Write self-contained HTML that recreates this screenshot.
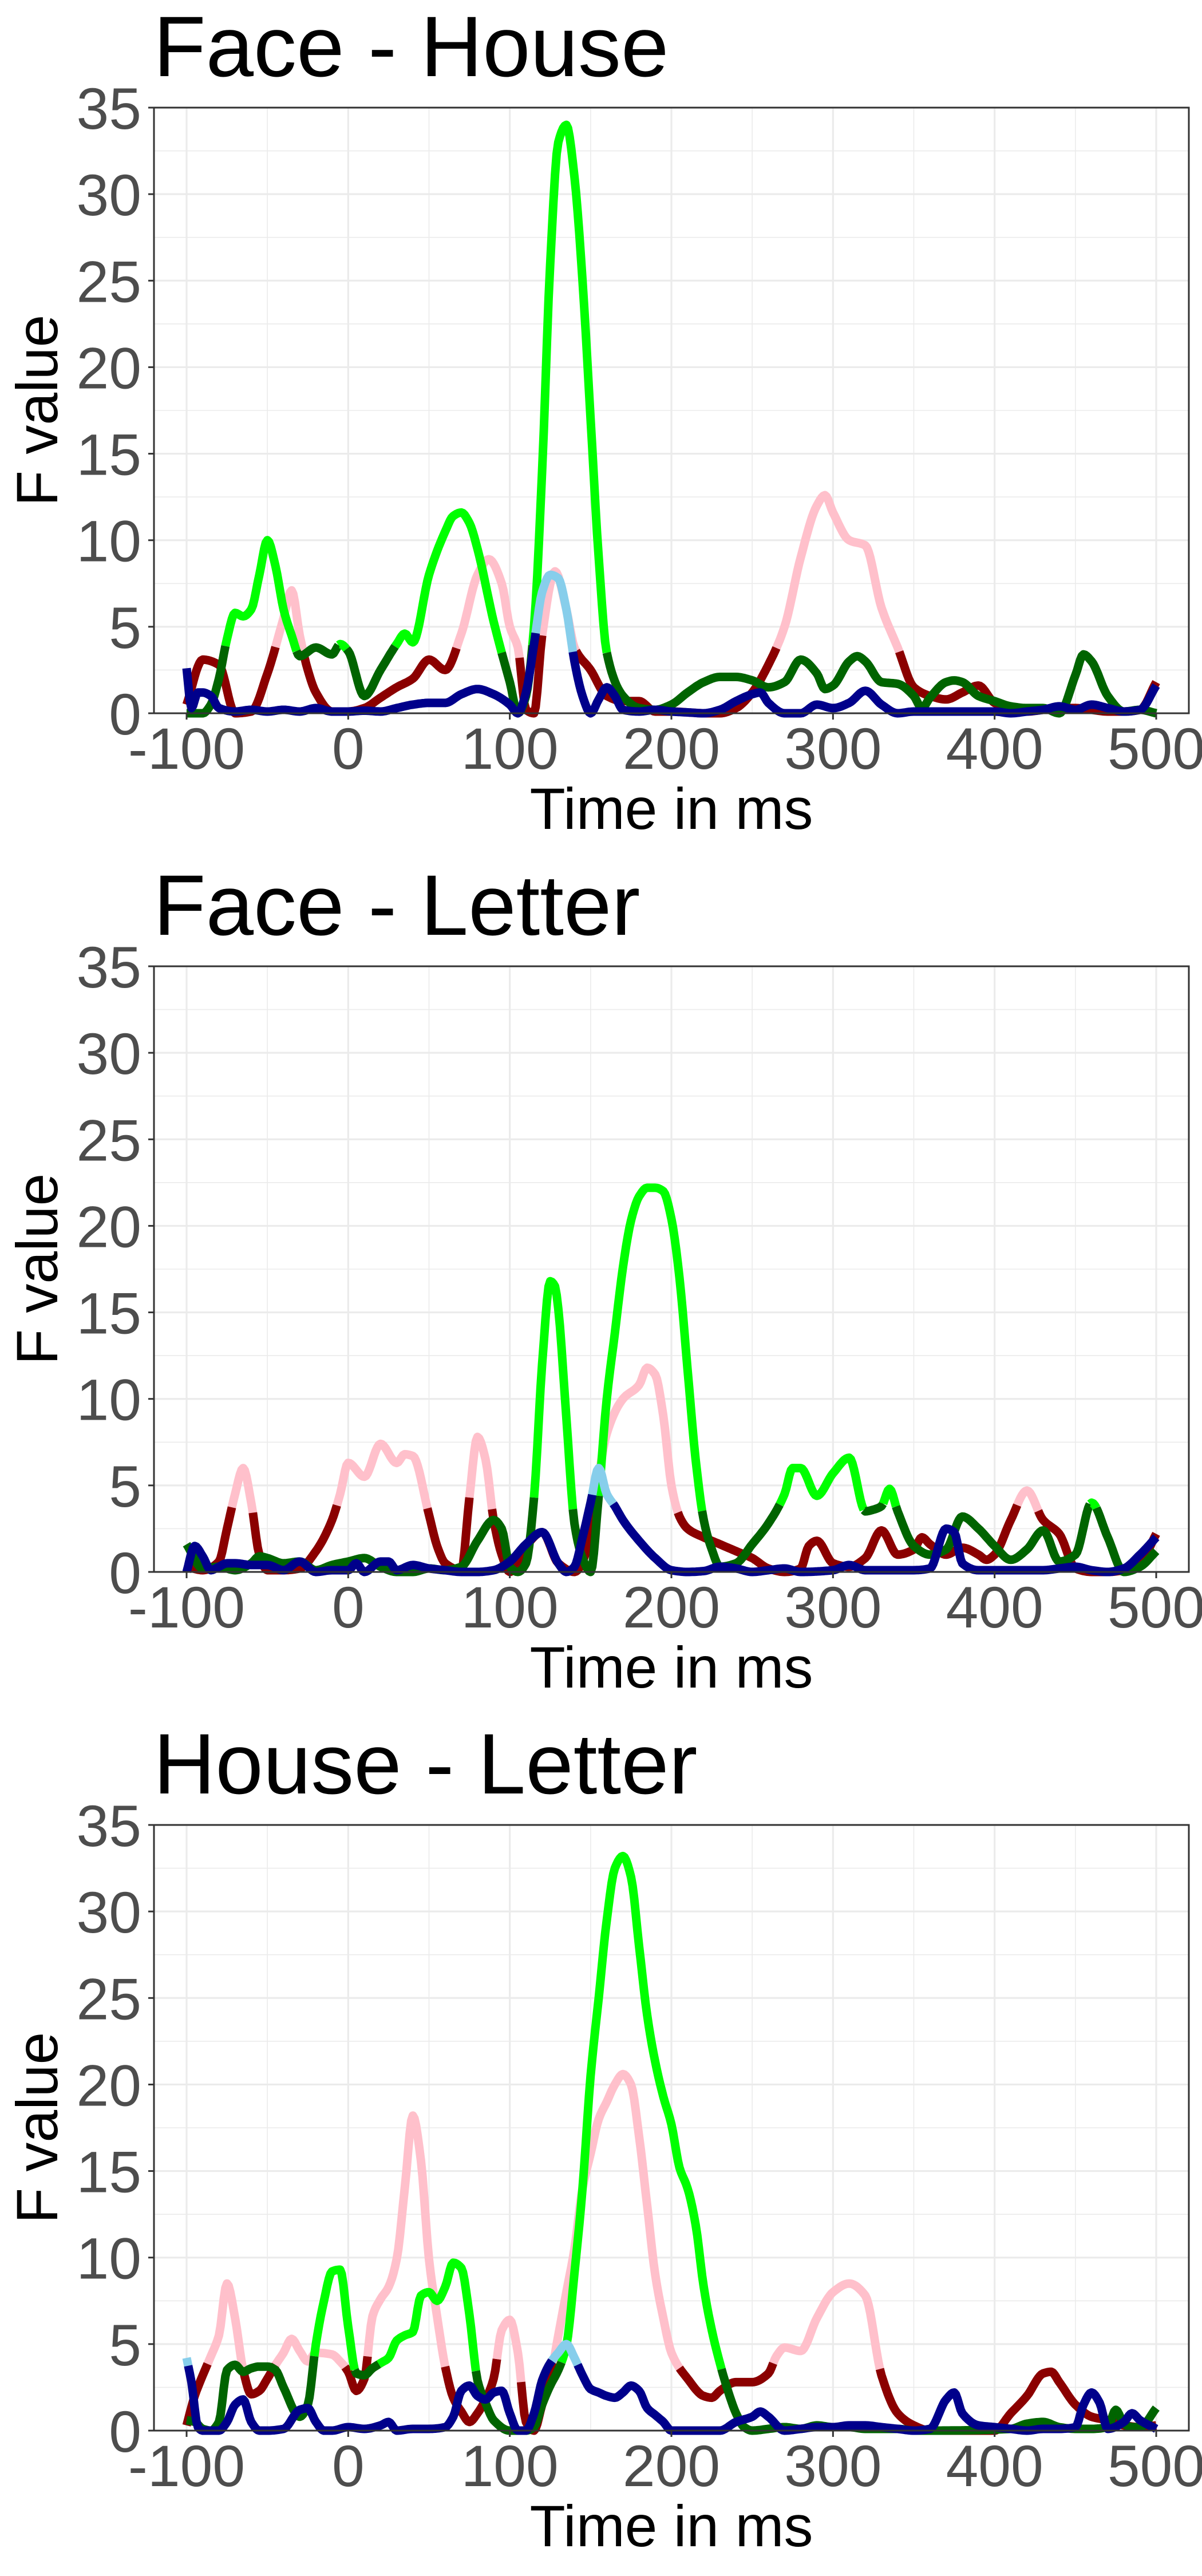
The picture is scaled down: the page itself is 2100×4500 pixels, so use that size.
<!DOCTYPE html>
<html>
<head>
<meta charset="utf-8">
<style>
html,body{margin:0;padding:0;background:#fff;}
svg{display:block;font-family:"Liberation Sans",Arial,sans-serif;}
</style>
</head>
<body>
<svg id="chart" width="2100" height="4500" viewBox="0 0 2100 4500" xmlns="http://www.w3.org/2000/svg"></svg>
<script>
// ---- data ----
const panelTitles = ["Face - House", "Face - Letter", "House - Letter"];
const xTicks = [-100, 0, 100, 200, 300, 400, 500];
const yTicks = [0, 5, 10, 15, 20, 25, 30, 35];

// Panel 1: Face - House
const p1aT = [-100,-90,-80,-70,-60,-50,-40,-35,-30,-25,-20,-10,0,10,20,30,40,50,60,70,80,87,95,100,105,110,115,120,128,135,140,150,160,170,180,190,200,210,220,230,240,250,260,270,280,290,295,300,310,320,330,340,350,360,370,380,390,400,410,420,430,440,450,460,470,480,490,500];
const p1aV = [0.5,3.1,2.8,0,0.1,2.3,5.5,7.1,4.5,2.5,1.2,0.1,0.1,0.3,0.9,1.5,2.0,3.1,2.5,4.6,8.0,8.9,7.5,5.0,3.8,0.2,0,4.5,8.2,6.0,3.8,2.5,1.0,0.7,0.7,0.1,0.1,0.05,0,0,0.3,1.2,2.8,5.0,9.0,12.0,12.6,11.6,10.0,9.7,6.1,3.8,1.5,1.0,0.8,1.2,1.6,0.6,0.3,0.1,0.2,0.3,0.3,0.2,0.1,0.1,0.2,1.8];
const p1bT = [-100,-90,-85,-80,-75,-70,-65,-60,-55,-50,-45,-40,-35,-30,-20,-10,-5,0,10,20,30,35,40,50,60,65,70,75,80,90,95,100,105,110,115,120,125,130,135,140,145,150,155,160,170,180,190,200,210,220,230,240,250,260,270,280,290,295,300,310,315,320,330,340,350,355,360,370,375,380,390,400,410,420,430,440,450,455,460,470,480,490,500];
const p1bV = [0,0,0.5,2.0,4.3,5.8,5.6,6.0,8.0,10.0,8.5,6.0,4.5,3.3,3.8,3.4,4.0,3.6,1.0,2.5,4.0,4.6,4.1,8.0,10.5,11.4,11.6,11.0,9.5,5.3,3.5,1.8,0,1.0,5,14,26,33,34,31,25,17,9,3.5,1.0,0.3,0.2,0.5,1.2,1.8,2.1,2.1,1.9,1.5,1.8,3.1,2.3,1.4,1.6,3.0,3.3,3.0,1.8,1.7,1.0,0.3,0.9,1.8,1.9,1.8,1.0,0.7,0.4,0.3,0.3,0.0,2.2,3.4,3.0,1.0,0.1,0.2,0];
const p1cT = [-100,-97,-93,-90,-85,-80,-70,-60,-50,-40,-30,-20,-10,0,10,20,30,40,50,60,70,80,90,100,105,110,115,120,125,130,135,140,145,150,155,160,165,170,180,190,200,210,220,230,240,250,255,260,270,280,290,300,310,320,330,340,350,400,410,420,430,440,450,460,470,480,490,500];
const p1cV = [2.6,0.3,1.2,1.2,1.0,0.3,0.1,0.2,0.1,0.2,0.1,0.3,0.1,0.1,0.15,0.1,0.3,0.5,0.6,0.6,1.1,1.4,1.1,0.5,0,1.2,4,7,8,7.8,6,3,1,0,0.8,1.5,1.0,0.2,0.1,0.2,0.1,0.05,0,0.2,0.7,1.1,1.2,0.6,0,0,0.5,0.3,0.6,1.3,0.5,0,0.1,0.1,0,0.1,0.2,0.4,0.2,0.5,0.3,0.1,0.2,1.6];

// Panel 2: Face - Letter
const p2aT = [-100,-90,-80,-75,-70,-65,-60,-55,-50,-40,-30,-20,-10,-5,0,10,20,30,35,40,50,55,60,70,75,80,85,90,95,100,110,120,130,140,150,155,160,170,180,185,190,195,200,205,210,220,230,240,250,260,270,280,285,290,300,310,320,330,340,350,355,360,370,380,390,395,400,410,420,430,440,450,460,470,480,490,500];
const p2aV = [0.3,0.1,0.6,2.5,4.5,6.0,4.0,1.0,0.1,0.1,0.2,1.2,3.0,4.5,6.3,5.5,7.4,6.3,6.8,6.7,3.3,1.5,0.5,0.1,4.3,7.8,6.5,3.0,1.0,0.0,1.5,2.3,0.5,0.0,2.0,5.5,8.0,10.0,10.8,11.8,11.4,9.0,5.0,3.2,2.5,2.0,1.6,1.2,0.8,0.2,0.0,0.2,1.5,1.8,0.5,0.3,0.8,2.4,1.0,1.3,2.0,1.6,1.0,1.4,1.0,0.7,1.0,3.0,4.7,3.0,2.2,0.2,0.0,0.0,0.1,0.5,2.2];
const p2bT = [-100,-90,-80,-70,-60,-55,-50,-40,-30,-20,-10,0,10,20,30,40,50,60,70,80,90,95,100,105,110,115,120,125,128,130,135,140,145,150,155,160,165,170,175,180,185,190,195,200,205,210,215,220,225,230,240,250,260,270,275,280,290,300,310,320,325,330,335,340,350,360,370,380,390,400,410,420,430,440,450,460,470,480,490,500];
const p2bV = [1.6,0.2,0.3,0.1,0.5,0.9,0.8,0.5,0.6,0.1,0.4,0.6,0.8,0.3,0,0,0.2,0.1,0.3,1.8,3.0,2.5,0.3,0,0.5,4.3,12,16.8,16.5,15.2,8.9,2.8,0.8,0,4.4,10,13.8,17.6,20.3,21.7,22.2,22.2,22,20.4,17,11.7,6.5,3.0,1.3,0.3,0.5,1.6,2.8,4.5,6.0,6.0,4.4,5.7,6.6,3.5,3.6,3.8,4.8,3.5,1.5,1.0,1.3,3.2,2.5,1.5,0.7,1.3,2.4,0.6,1.0,4.0,2.0,0.0,0.3,1.2];
const p2cT = [-100,-95,-90,-85,-80,-75,-70,-60,-50,-40,-30,-20,-10,0,5,10,20,25,30,40,50,60,70,80,90,100,110,120,130,135,140,145,150,155,160,165,170,180,190,200,210,220,230,240,250,260,270,280,300,310,320,330,340,350,360,370,375,380,390,400,420,430,440,450,460,470,480,490,500];
const p2cV = [0.0,1.5,0.9,0.1,0.3,0.5,0.5,0.4,0.4,0.1,0.6,0.0,0.1,0.1,0.5,0.0,0.6,0.6,0.1,0.4,0.2,0.1,0,0,0.1,0.6,1.6,2.3,0.5,0,0.3,2.0,4.0,6.0,4.5,3.8,3.0,1.8,0.8,0.1,0,0.05,0.3,0.2,0,0.1,0.2,0,0.1,0.4,0.1,0.1,0.1,0.1,0.2,2.5,2.3,0.5,0.1,0.1,0.1,0.1,0.2,0.3,0.1,0,0.2,1.0,2.0];

// Panel 3: House - Letter
const p3aT = [-100,-95,-90,-85,-80,-75,-70,-65,-60,-55,-50,-45,-40,-35,-30,-25,-20,-10,-5,0,5,10,15,20,25,30,35,40,45,50,55,60,65,70,75,80,85,90,95,100,105,110,115,120,125,130,135,140,145,150,155,160,165,170,175,180,185,190,195,200,210,220,225,230,240,250,260,265,270,280,290,300,310,320,330,340,350,360,380,400,410,420,430,435,440,450,460,470,480,490,500];
const p3aV = [0.3,2.0,3.2,4.3,5.5,8.5,6.5,3.5,2.1,2.3,3.0,3.8,4.5,5.3,4.6,4.0,4.5,4.4,4.0,3.4,2.3,3.0,6.6,7.6,8.3,9.9,14,18.2,15.6,9.9,6.6,3.7,1.9,1.1,0.5,1.0,1.8,3.0,5.8,6.4,4.5,0.5,0,1.5,3.0,5.5,8,10.5,14,16,18,19,20,20.6,20,17,13,9,6.5,4.5,3.0,2.0,1.9,2.3,2.8,2.8,3.3,4.3,4.8,4.6,6.5,8.0,8.5,7.8,3.2,1.0,0.3,0.0,0.0,0.0,1.0,2.0,3.3,3.4,2.8,1.5,0.8,0.6,0.3,0.2,0.3];
const p3bT = [-100,-95,-90,-85,-80,-75,-70,-65,-60,-55,-50,-45,-40,-30,-25,-20,-15,-10,-5,0,5,10,15,20,25,30,35,40,45,50,55,60,65,70,75,80,85,90,100,110,115,120,125,130,135,140,145,150,155,160,165,170,175,180,185,190,195,200,205,210,215,220,225,230,235,240,245,250,260,270,280,290,300,310,320,330,340,350,360,410,420,430,440,450,460,470,475,480,485,490,500];
const p3bV = [0.6,0.5,0.1,0.0,0.5,3.5,3.8,3.4,3.6,3.7,3.7,3.5,2.5,0.8,1.5,5.0,7.5,9.2,9.3,6.0,3.3,3.2,3.6,3.9,4.2,5.2,5.5,5.7,7.8,8.0,7.5,8.3,9.7,9.4,6.7,2.9,1.6,0.6,0,0,0.2,1.5,2.6,3.5,4.9,9.1,14,20.5,25,29.5,32.5,33.2,32,28,24,21.3,19.3,17.7,15.2,14,11.9,8.3,5.8,3.9,2.3,1.0,0.2,0,0.1,0.2,0.1,0.3,0.2,0.2,0.1,0.1,0.1,0,0,0.1,0.4,0.5,0.2,0.1,0.1,0.2,1.2,0.4,0.2,0.2,1.3];
const p3cT = [-100,-97,-93,-90,-80,-75,-70,-65,-60,-55,-50,-40,-30,-25,-20,-15,-10,0,10,20,25,30,40,50,60,65,70,75,80,85,90,95,100,105,110,115,120,125,130,135,140,145,150,155,160,165,170,175,180,185,190,195,200,210,220,230,240,250,255,260,270,280,290,300,310,320,330,340,350,360,370,375,380,390,400,410,420,430,440,450,455,460,465,470,480,485,490,500];
const p3cV = [4.2,2.8,0.2,0,0,0.5,1.5,1.8,0.5,0,0,0.1,1.2,1.3,0.5,0,0,0.2,0.1,0.3,0.5,0,0.1,0.1,0.2,0.8,2.3,2.6,2.0,1.8,2.2,2.3,1.0,0,0,1.0,2.9,3.9,4.5,5.0,4.2,3.2,2.4,2.2,2.0,1.9,2.2,2.6,2.3,1.3,0.9,0.5,0,0,0,0,0.5,0.8,1.1,0.8,0,0.1,0.2,0.2,0.3,0.3,0.2,0.1,0,0.1,1.8,2.2,1.0,0.3,0.2,0.1,0,0.1,0.1,0.2,1.5,2.2,1.6,0.1,0.5,1.0,0.6,0.1];

// ---- layout ----
const NS = "http://www.w3.org/2000/svg";
const svg = document.getElementById("chart");
const L = 269, R = 2077, TOP = 188, BOT = 1246, OFF = 1500;
const xScale = t => 326 + (t + 100) * (2020 - 326) / 600;
const yScale = v => BOT - v * (BOT - TOP) / 35;

function mk(tag, attrs, parent) {
  const e = document.createElementNS(NS, tag);
  for (const k in attrs) e.setAttribute(k, attrs[k]);
  parent.appendChild(e);
  return e;
}

function monotone(ts, vs) {
  const n = Math.min(ts.length, vs.length);
  const d = [], m = new Array(n).fill(0);
  for (let i = 0; i < n - 1; i++) d.push((vs[i+1] - vs[i]) / (ts[i+1] - ts[i]));
  m[0] = d[0]; m[n-1] = d[n-2];
  for (let i = 1; i < n - 1; i++) {
    if (d[i-1] * d[i] <= 0) m[i] = 0;
    else {
      const h0 = ts[i] - ts[i-1], h1 = ts[i+1] - ts[i];
      const w1 = 2*h1 + h0, w2 = h1 + 2*h0;
      m[i] = (w1 + w2) / (w1 / d[i-1] + w2 / d[i]);
    }
  }
  const pts = [];
  for (let i = 0; i < n - 1; i++) {
    const h = ts[i+1] - ts[i];
    const steps = Math.max(2, Math.round(h));
    for (let s = 0; s < steps; s++) {
      const u = s / steps, u2 = u*u, u3 = u2*u;
      const v = (2*u3 - 3*u2 + 1) * vs[i] + (u3 - 2*u2 + u) * h * m[i] + (-2*u3 + 3*u2) * vs[i+1] + (u3 - u2) * h * m[i+1];
      pts.push([ts[i] + u*h, Math.max(0, v)]);
    }
  }
  pts.push([ts[n-1], vs[n-1]]);
  return pts;
}

function drawSeries(g, ts, vs, thr, lowCol, highCol, name) {
  const pts = monotone(ts, vs);
  let run = [], cur = null;
  const flush = () => {
    if (run.length > 1) {
      const pl = mk("polyline", {
        points: run.map(p => xScale(p[0]).toFixed(1) + "," + yScale(p[1]).toFixed(1)).join(" "),
        fill: "none", stroke: cur ? highCol : lowCol, "stroke-width": 15, "stroke-linejoin": "round"
      }, g);
      
      
    }
  };
  for (const p of pts) {
    const c = p[1] > thr;
    if (cur === null) cur = c;
    if (c !== cur) { run.push(p); flush(); run = [run[run.length-1]]; cur = c; }
    run.push(p);
  }
  flush();
}

const panelData = [
  [[p1aT,p1aV],[p1bT,p1bV],[p1cT,p1cV]],
  [[p2aT,p2aV],[p2bT,p2bV],[p2cT,p2cV]],
  [[p3aT,p3aV],[p3bT,p3bV],[p3cT,p3cV]]
];
const seriesStyle = [
  {thr: 3.7, low: "#8b0000", high: "#ffc0cb", name: "series-a-line"},
  {thr: 3.8, low: "#006400", high: "#00ff00", name: "series-b-line"},
  {thr: 4.0, low: "#00008b", high: "#87ceeb", name: "series-c-line"}
];

panelTitles.forEach((title, i) => {
  const g = mk("g", {transform: "translate(0," + (i * OFF) + ")"}, svg);
  
  

  const tt = mk("text", {x: 268, y: 133, "font-size": 150, fill: "#000"}, g);
  tt.textContent = title;
  
  

  const grid = mk("g", {}, g);
  
  
  for (let v = 2.5; v < 35; v += 5) mk("line", {x1: L, x2: R, y1: yScale(v), y2: yScale(v), stroke: "#ebebeb", "stroke-width": 1.6}, grid);
  for (let t = -50; t < 500; t += 100) mk("line", {x1: xScale(t), x2: xScale(t), y1: TOP, y2: BOT, stroke: "#ebebeb", "stroke-width": 1.6}, grid);
  yTicks.forEach(v => mk("line", {x1: L, x2: R, y1: yScale(v), y2: yScale(v), stroke: "#ebebeb", "stroke-width": 3.2}, grid));
  xTicks.forEach(t => mk("line", {x1: xScale(t), x2: xScale(t), y1: TOP, y2: BOT, stroke: "#ebebeb", "stroke-width": 3.2}, grid));

  const lines = mk("g", {}, g);
  
  
  panelData[i].forEach((sd, k) => {
    const st = seriesStyle[k];
    drawSeries(lines, sd[0], sd[1], st.thr, st.low, st.high, st.name);
  });

  const border = mk("rect", {x: L, y: TOP, width: R - L, height: BOT - TOP, fill: "none", stroke: "#333333", "stroke-width": 3}, g);
  
  

  yTicks.forEach(v => {
    mk("line", {x1: L - 10, x2: L, y1: yScale(v), y2: yScale(v), stroke: "#333333", "stroke-width": 3}, g);
    const lb = mk("text", {x: 247, y: yScale(v) + 37, "font-size": 102, fill: "#4d4d4d", "text-anchor": "end"}, g);
    lb.textContent = v;
    
    
  });
  xTicks.forEach(t => {
    mk("line", {x1: xScale(t), x2: xScale(t), y1: BOT, y2: BOT + 11, stroke: "#333333", "stroke-width": 3}, g);
    const lb = mk("text", {x: xScale(t), y: BOT + 97, "font-size": 102, fill: "#4d4d4d", "text-anchor": "middle"}, g);
    lb.textContent = t;
    
    
  });

  const xt = mk("text", {x: (L + R) / 2, y: BOT + 202, "font-size": 102, fill: "#000", "text-anchor": "middle"}, g);
  xt.textContent = "Time in ms";
  
  

  const yt = mk("text", {x: 0, y: 0, "font-size": 102, fill: "#000", "text-anchor": "middle", transform: "translate(100," + ((TOP + BOT) / 2) + ") rotate(-90)"}, g);
  yt.textContent = "F value";
  
  
});
</script>
</body>
</html>
